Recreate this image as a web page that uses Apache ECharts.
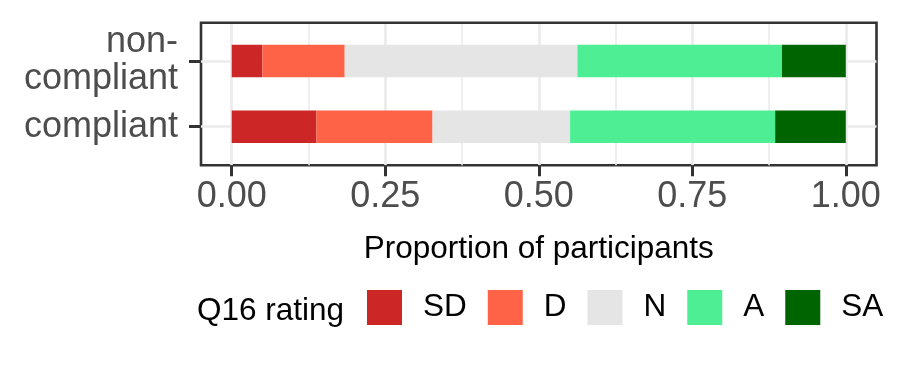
<!DOCTYPE html>
<html>
<head>
<meta charset="utf-8">
<script src="https://cdn.jsdelivr.net/npm/echarts@6/dist/echarts.min.js"></script>
<style>
  html, body { margin: 0; padding: 0; background: #fff; }
  #chart { width: 900px; height: 375px; }
</style>
</head>
<body>
<div id="chart"></div>
<script>
// groups, bottom to top as they sit on the y axis
const groups = ['compliant', 'non-\ncompliant']
const ratings = ['SD', 'D', 'N', 'A', 'SA']
const ratingColors = ['#CD2626', '#FF6347', '#E5E5E5', '#4EEE94', '#006400']
// proportion per rating, [compliant, non-compliant]
const sdVals = [0.138, 0.050]
const dVals = [0.189, 0.134]
const nVals = [0.224, 0.379]
const aVals = [0.334, 0.333]
const saVals = [0.115, 0.104]
const xTicks = [0, 0.25, 0.5, 0.75, 1]

const font = '"Liberation Sans", Arial, sans-serif'
const values = [sdVals, dVals, nVals, aVals, saVals]

// panel box and ggplot-like expansion
const panel = { left: 201, right: 876.5, top: 22.7, bottom: 165.3 }
const expand = 0.05
const unit = (panel.right - panel.left) / (1 + 2 * expand)
const dataLeft = panel.left + expand * unit
const dataRight = panel.right - expand * unit
const band = 65.7
const barTop = 61 - band / 2
const barBottom = 126.7 + band / 2

const chart = echarts.init(document.getElementById('chart'))

chart.setOption({
  animation: false,
  title: {
    text: 'Q16 rating',
    left: 192,
    top: 290,
    textStyle: { fontFamily: font, fontSize: 31.5, fontWeight: 'normal', color: '#000' },
  },
  legend: {
    data: ratings,
    left: 367,
    top: 290,
    padding: 0,
    itemWidth: 35,
    itemHeight: 35,
    itemGap: 21,
    icon: 'rect',
    textStyle: { fontFamily: font, fontSize: 31.5, color: '#000', padding: [5, 0, 0, 16] },
  },
  grid: [
    // panel border
    {
      left: panel.left, right: 900 - panel.right, top: panel.top, bottom: 375 - panel.bottom,
      show: true, borderColor: '#333333', borderWidth: 2.6, backgroundColor: '#fff',
    },
    // x gridlines, ticks and labels
    {
      left: dataLeft, right: 900 - dataRight, top: panel.top + 1.5, bottom: 375 - panel.bottom,
    },
    // bars
    {
      left: panel.left, right: 900 - panel.right, top: barTop, bottom: 375 - barBottom,
    },
  ],
  xAxis: [
    { gridIndex: 0, type: 'value', show: false, min: 0, max: 1 },
    {
      gridIndex: 1,
      type: 'value',
      min: 0,
      max: 1,
      interval: 0.25,
      name: 'Proportion of participants',
      nameLocation: 'middle',
      nameGap: 68,
      nameTextStyle: { fontFamily: font, fontSize: 31.5, color: '#000' },
      axisLine: { show: false },
      axisTick: { show: true, length: 11, lineStyle: { color: '#333333', width: 3 } },
      axisLabel: {
        fontFamily: font, fontSize: 36, color: '#4D4D4D', margin: 14,
        formatter: (v) => (xTicks.includes(v) ? v.toFixed(2) : ''),
      },
      splitLine: { show: true, lineStyle: { color: '#EBEBEB', width: 2.7 } },
      minorTick: { show: false, splitNumber: 2 },
      minorSplitLine: { show: true, lineStyle: { color: '#EBEBEB', width: 1.6 } },
    },
    { gridIndex: 2, type: 'value', show: false, min: -expand, max: 1 + expand },
  ],
  yAxis: [
    { gridIndex: 0, type: 'value', show: false },
    { gridIndex: 1, type: 'value', show: false },
    {
      gridIndex: 2,
      type: 'category',
      data: groups,
      axisLine: { show: false, onZero: false },
      axisTick: { show: true, alignWithLabel: true, length: 12, lineStyle: { color: '#333333', width: 3 } },
      axisLabel: { fontFamily: font, fontSize: 36, lineHeight: 37, color: '#4D4D4D', margin: 23, align: 'right' },
      splitLine: { show: true, alignWithLabel: true, lineStyle: { color: '#EBEBEB', width: 2.7 } },
    },
  ],
  series: ratings.map((r, i) => ({
    name: r,
    type: 'bar',
    xAxisIndex: 2,
    yAxisIndex: 2,
    stack: 'total',
    barWidth: 32.6,
    data: values[i],
    itemStyle: { color: ratingColors[i] },
  })),
})
</script>
</body>
</html>
